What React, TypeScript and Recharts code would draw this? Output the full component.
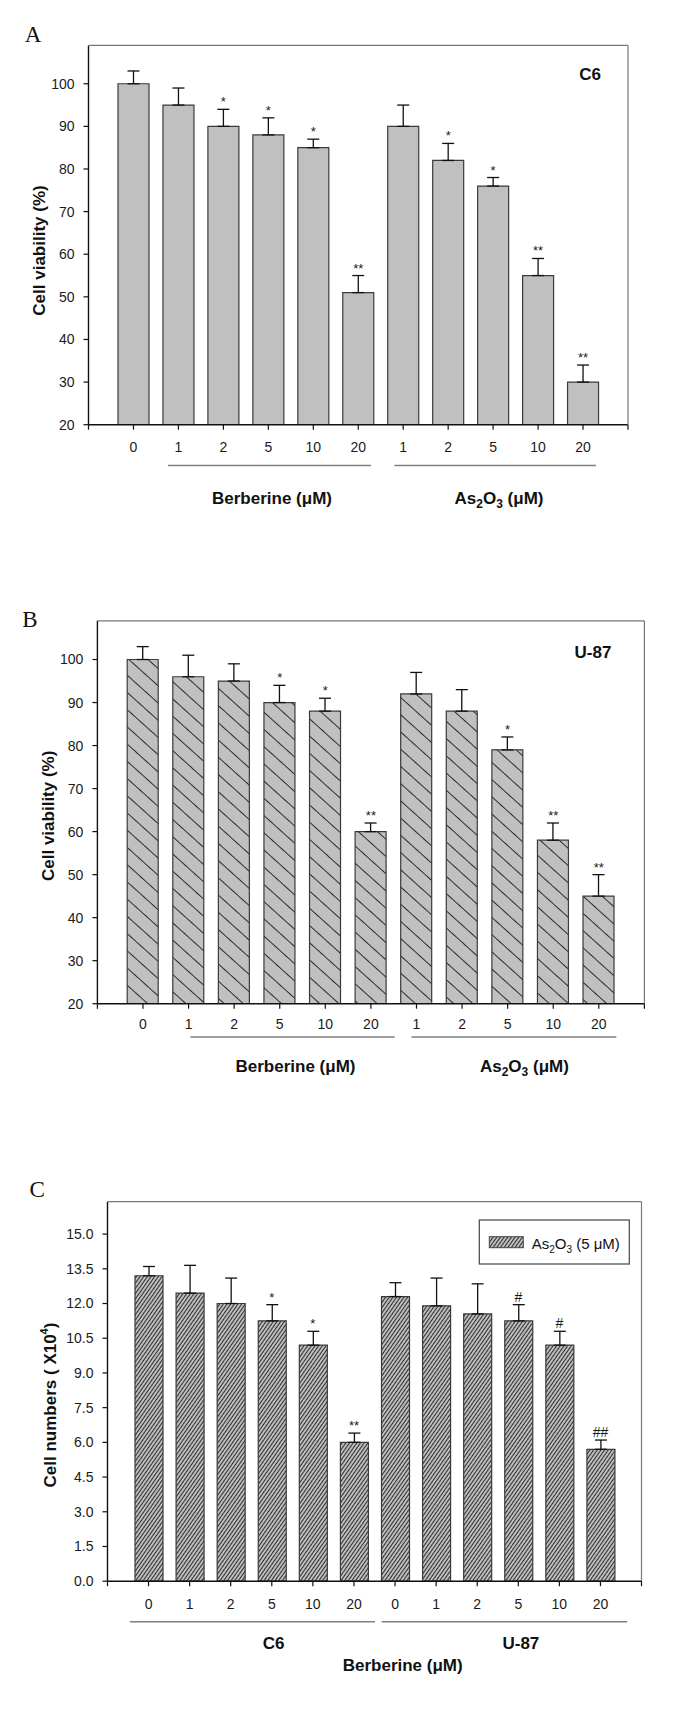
import React from 'react';
import { ComposedChart, Bar, Line, XAxis, YAxis, ErrorBar, LabelList } from 'recharts';

// panel A / B: berberine 0-20 then As2O3 1-20
const doseLabels = ['0', '1', '2', '5', '10', '20', '1', '2', '5', '10', '20'];

const c6Viability = [100, 95, 90, 88, 85, 51, 90, 82, 76, 55, 30];
const c6Err = [3, 4, 4, 4, 2, 4, 5, 4, 2, 4, 4];
const c6Sig = ['', '', '*', '*', '*', '**', '', '*', '*', '**', '**'];

const u87Viability = [100, 96, 95, 90, 88, 60, 92, 88, 79, 58, 45];
const u87Err = [3, 5, 4, 4, 3, 2, 5, 5, 3, 4, 5];
const u87Sig = ['', '', '', '*', '*', '**', '', '', '*', '**', '**'];

const viabilityTicks = [20, 30, 40, 50, 60, 70, 80, 90, 100];

// panel C: cell numbers (x10^4) with As2O3 5 uM, C6 then U-87
const countDoses = ['0', '1', '2', '5', '10', '20', '0', '1', '2', '5', '10', '20'];
const cellCounts = [13.2, 12.45, 12.0, 11.25, 10.2, 6.0, 12.3, 11.9, 11.55, 11.25, 10.2, 5.7];
const cellErr = [0.4, 1.2, 1.1, 0.7, 0.6, 0.4, 0.6, 1.2, 1.3, 0.7, 0.6, 0.4];
const cellSig = ['', '', '', '*', '*', '**', '', '', '', '#', '#', '##'];

const countTicks = [0, 1.5, 3, 4.5, 6, 7.5, 9, 10.5, 12, 13.5, 15];

const FONT = '"Liberation Sans", Arial, Helvetica, sans-serif';
const SERIF = '"Liberation Serif", "Times New Roman", serif';

const makeRows = (labels: string[], values: number[], errs: number[], sigs: string[]) =>
  labels.map((dose, i) => ({
    key: String(i),
    dose,
    value: values[i],
    err: [0, errs[i]],
    top: values[i] + errs[i],
    sig: sigs[i],
  }));

const rowsA = makeRows(doseLabels, c6Viability, c6Err, c6Sig);
const rowsB = makeRows(doseLabels, u87Viability, u87Err, u87Sig);
const rowsC = makeRows(countDoses, cellCounts, cellErr, cellSig);

const SigLabel = (props: any) => {
  const { value } = props;
  if (!value) return null;
  const x = props.x ?? props.viewBox?.x;
  const y = props.y ?? props.viewBox?.y;
  const hash = String(value).includes('#');
  return (
    <text x={x} y={y - 3} textAnchor="middle" fontSize={hash ? 14 : 13} fontFamily={FONT} fill="#1a1a1a">
      {value}
    </text>
  );
};

interface PanelProps {
  rows: ReturnType<typeof makeRows>;
  height: number;
  margin: { top: number; right: number; bottom: number; left: number };
  domain: [number, number];
  ticks: number[];
  fill: string;
  barSize: number;
  pad: number;
  tickMargin: number;
  yFmt?: (v: number) => string;
}

function Panel({ rows, height, margin, domain, ticks, fill, barSize, pad, tickMargin, yFmt }: PanelProps) {
  return (
    <ComposedChart width={685} height={height} data={rows} margin={margin}>
      <XAxis
        dataKey="key"
        interval={0}
        height={30}
        padding={{ left: pad, right: pad }}
        tickSize={5}
        tickMargin={tickMargin}
        tickFormatter={(v) => rows[Number(v)].dose}
        axisLine={{ stroke: '#111', strokeWidth: 1.4 }}
        tickLine={{ stroke: '#111', strokeWidth: 1.2 }}
        tick={{ fontSize: 14, fill: '#1a1a1a', fontFamily: FONT }}
      />
      <YAxis
        type="number"
        domain={domain}
        ticks={ticks}
        interval={0}
        width={60}
        tickSize={5}
        tickMargin={9}
        allowDataOverflow
        tickFormatter={yFmt}
        axisLine={{ stroke: '#111', strokeWidth: 1.4 }}
        tickLine={{ stroke: '#111', strokeWidth: 1.2 }}
        tick={{ fontSize: 14, fill: '#1a1a1a', fontFamily: FONT }}
      />
      <Bar dataKey="value" fill={fill} stroke="#3a3a3a" strokeWidth={1.2} barSize={barSize} isAnimationActive={false}>
        <ErrorBar dataKey="err" direction="y" width={6} stroke="#111" strokeWidth={1.3} />
      </Bar>
      <Line dataKey="top" stroke="none" dot={false} activeDot={false} isAnimationActive={false} legendType="none">
        <LabelList dataKey="sig" content={SigLabel} />
      </Line>
    </ComposedChart>
  );
}

const Subs = ({ size = 12 }: { size?: number }) => (
  <>
    <tspan>As</tspan>
    <tspan dy={4} fontSize={size}>2</tspan>
    <tspan dy={-4}>O</tspan>
    <tspan dy={4} fontSize={size}>3</tspan>
    <tspan dy={-4}>{' '}</tspan>
  </>
);

export default function App() {
  const bold = { fontFamily: FONT, fontWeight: 700, fontSize: 17, fill: '#111' } as const;
  const frame = { stroke: '#777', strokeWidth: 1.2 };
  const endTick = { stroke: '#111', strokeWidth: 1.2 };
  const under = { stroke: '#808080', strokeWidth: 1.5 };
  return (
    <div style={{ position: 'absolute', left: 0, top: 0, width: 685, height: 1723, background: '#fff' }}>
      <div style={{ position: 'absolute', left: 0, top: 0 }}>
        <Panel
          rows={rowsA}
          height={470}
          margin={{ top: 45.4, right: 57, bottom: 15.3, left: 28.5 }}
          domain={[20, 109]}
          ticks={viabilityTicks}
          fill="#c0c0c0"
          barSize={31}
          pad={22.5}
          tickMargin={12}
        />
      </div>
      <div style={{ position: 'absolute', left: 0, top: 560 }}>
        <Panel
          rows={rowsB}
          height={490}
          margin={{ top: 60.8, right: 40.6, bottom: 16.3, left: 37.4 }}
          domain={[20, 109]}
          ticks={viabilityTicks}
          fill="url(#hatchB)"
          barSize={31}
          pad={22.8}
          tickMargin={10}
        />
      </div>
      <div style={{ position: 'absolute', left: 0, top: 1120 }}>
        <Panel
          rows={rowsC}
          height={520}
          margin={{ top: 81.7, right: 43.5, bottom: 28.8, left: 47.5 }}
          domain={[0, 16.4]}
          ticks={countTicks}
          fill="url(#hatchC)"
          barSize={28}
          pad={20.5}
          tickMargin={12.4}
          yFmt={(v) => v.toFixed(1)}
        />
      </div>

      <svg width={685} height={1723} style={{ position: 'absolute', left: 0, top: 0, pointerEvents: 'none' }}>
        <defs>
          <pattern id="hatchB" patternUnits="userSpaceOnUse" width={20} height={12.8} patternTransform="rotate(42)">
            <rect width={20} height={12.8} fill="#c0c0c0" />
            <line x1={0} y1={0.5} x2={20} y2={0.5} stroke="#2a2a2a" strokeWidth={1} />
          </pattern>
          <pattern id="hatchC" patternUnits="userSpaceOnUse" width={10} height={3} patternTransform="rotate(-55)">
            <rect width={10} height={3} fill="#bdbdbd" />
            <line x1={0} y1={0.5} x2={10} y2={0.5} stroke="#2e2e2e" strokeWidth={1} />
          </pattern>
        </defs>

        {/* panel A */}
        <text x={33} y={42} textAnchor="middle" fontFamily={SERIF} fontSize={23} fill="#111">A</text>
        <line x1={88.5} y1={45.4} x2={628} y2={45.4} {...frame} />
        <line x1={628} y1={45.4} x2={628} y2={424.7} {...frame} />
        <line x1={628} y1={424.7} x2={628} y2={429.7} {...endTick} />
        <line x1={88.5} y1={424.7} x2={88.5} y2={429.7} {...endTick} />
        <text x={590} y={79.5} textAnchor="middle" {...bold}>C6</text>
        <text transform="translate(39,250.5) rotate(-90)" textAnchor="middle" dominantBaseline="central" {...bold}>
          Cell viability (%)
        </text>
        <line x1={168} y1={465.5} x2={371} y2={465.5} {...under} />
        <line x1={394.4} y1={465.5} x2={596} y2={465.5} {...under} />
        <text x={272} y={504} textAnchor="middle" {...bold}>Berberine (μM)</text>
        <text x={499} y={504} textAnchor="middle" {...bold}><Subs />(μM)</text>

        {/* panel B */}
        <text x={30} y={626.6} textAnchor="middle" fontFamily={SERIF} fontSize={23} fill="#111">B</text>
        <line x1={97.4} y1={620.8} x2={644.4} y2={620.8} {...frame} />
        <line x1={644.4} y1={620.8} x2={644.4} y2={1003.7} {...frame} />
        <line x1={644.4} y1={1003.7} x2={644.4} y2={1008.7} {...endTick} />
        <line x1={97.4} y1={1003.7} x2={97.4} y2={1008.7} {...endTick} />
        <text x={593} y={658.3} textAnchor="middle" {...bold}>U-87</text>
        <text transform="translate(48,815.8) rotate(-90)" textAnchor="middle" dominantBaseline="central" {...bold}>
          Cell viability (%)
        </text>
        <line x1={190.4} y1={1037} x2={394.8} y2={1037} {...under} />
        <line x1={411.4} y1={1037} x2={616.3} y2={1037} {...under} />
        <text x={295.5} y={1072} textAnchor="middle" {...bold}>Berberine (μM)</text>
        <text x={524.4} y={1072} textAnchor="middle" {...bold}><Subs />(μM)</text>

        {/* panel C */}
        <text x={37.2} y={1197} textAnchor="middle" fontFamily={SERIF} fontSize={23} fill="#111">C</text>
        <line x1={107.5} y1={1201.7} x2={641.5} y2={1201.7} {...frame} />
        <line x1={641.5} y1={1201.7} x2={641.5} y2={1581.2} {...frame} />
        <line x1={641.5} y1={1581.2} x2={641.5} y2={1586.2} {...endTick} />
        <line x1={107.5} y1={1581.2} x2={107.5} y2={1586.2} {...endTick} />
        <rect x={479.3} y={1220} width={150} height={44} fill="#fff" stroke="#444" strokeWidth={1.2} />
        <rect x={489.3} y={1236.7} width={34} height={11} fill="url(#hatchC)" stroke="#444" strokeWidth={1} />
        <text x={531.7} y={1248.6} fontFamily={FONT} fontSize={15} fill="#111">
          <Subs size={10} />(5 μM)
        </text>
        <text transform="translate(49.5,1405) rotate(-90)" textAnchor="middle" dominantBaseline="central" {...bold}>
          <tspan>Cell numbers ( X10</tspan>
          <tspan dy={-6} fontSize={11}>4</tspan>
          <tspan dy={6}>)</tspan>
        </text>
        <line x1={130} y1={1621.7} x2={375} y2={1621.7} {...under} />
        <line x1={381.7} y1={1621.7} x2={627.2} y2={1621.7} {...under} />
        <text x={273.6} y={1649} textAnchor="middle" {...bold}>C6</text>
        <text x={520.9} y={1649} textAnchor="middle" {...bold}>U-87</text>
        <text x={402.7} y={1671} textAnchor="middle" {...bold}>Berberine (μM)</text>
      </svg>
    </div>
  );
}
